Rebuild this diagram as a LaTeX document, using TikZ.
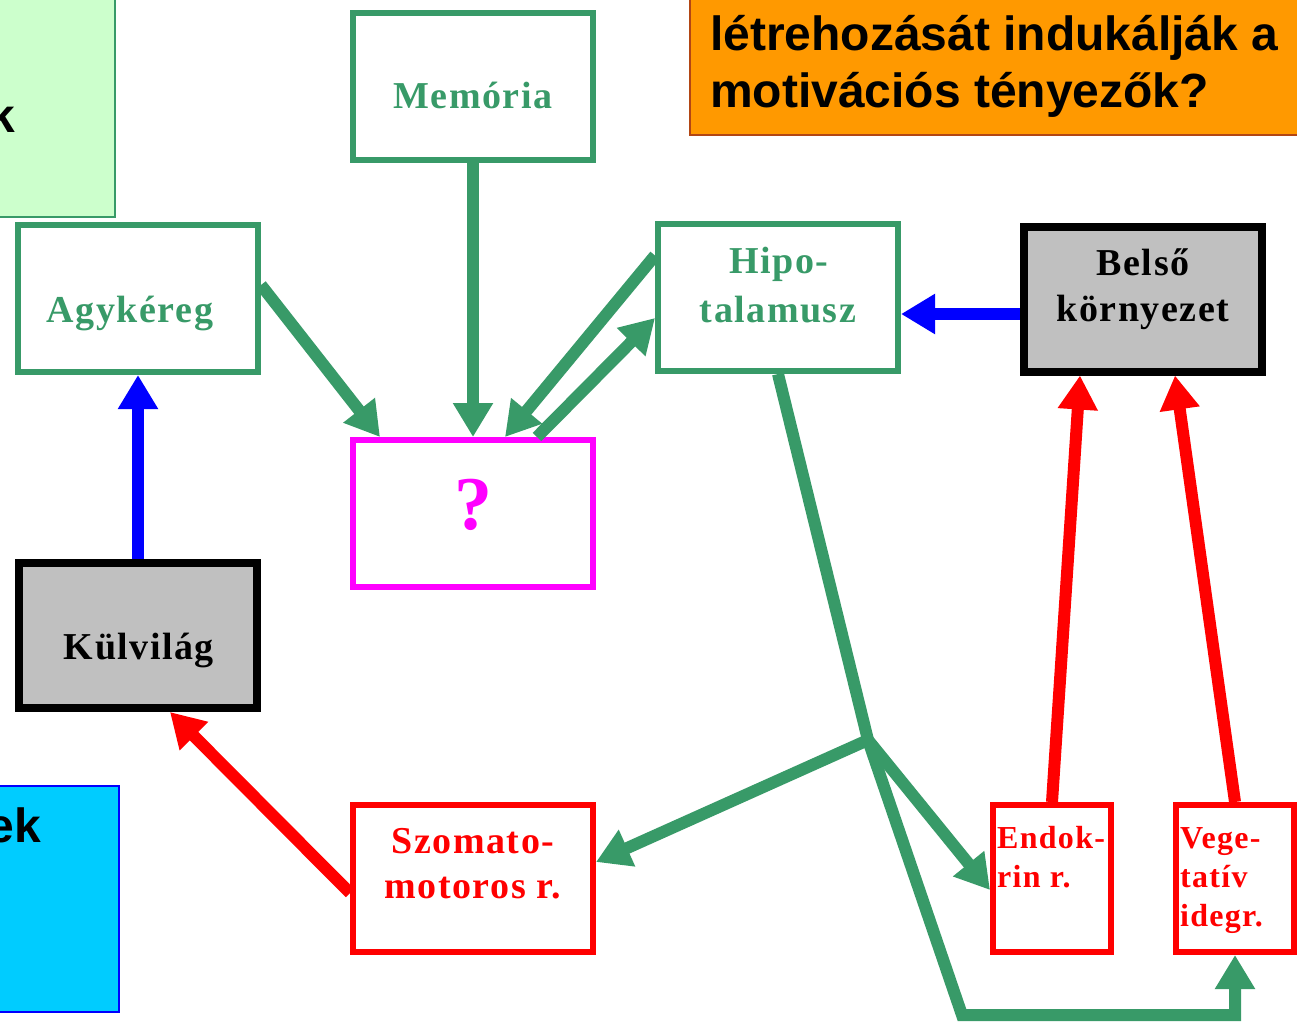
\documentclass[tikz,border=0pt]{standalone}
\usepackage{fontspec}
\setmainfont{Liberation Serif}
\newfontfamily\headfont{Liberation Sans}
\newfontfamily\boxfont[LetterSpace=4]{Liberation Serif}
\usetikzlibrary{arrows.meta}
\definecolor{sgreen}{RGB}{56,154,104}
\definecolor{boxgray}{RGB}{192,192,192}
\definecolor{palegreen}{RGB}{204,255,204}
\definecolor{skycyan}{RGB}{0,204,255}
\definecolor{panelorange}{RGB}{255,153,0}
\definecolor{panelrim}{RGB}{178,70,20}
\definecolor{pinkq}{RGB}{255,0,255}
\begin{document}
\begin{tikzpicture}[x=1pt,y=-1pt,
  box/.style={rectangle, inner sep=0pt, line width=6pt,
    minimum width=240pt, minimum height=147pt},
  gbox/.style={box, draw=sgreen},
  rbox/.style={box, draw=red},
  mbox/.style={box, draw=pinkq},
  graybox/.style={box, draw=black, fill=boxgray, line width=8pt,
    minimum width=238pt, minimum height=145pt},
  narrow/.style={minimum width=118pt},
  panel/.style={rectangle, inner sep=0pt, line width=2pt},
  lbl/.style={anchor=base, inner sep=0pt,
    font=\boxfont\bfseries\fontsize{38}{46}\selectfont},
  small/.style={anchor=base west, inner sep=0pt, align=left,
    font=\boxfont\bfseries\fontsize{32}{39}\selectfont, text=red},
  head/.style={inner sep=0pt, font=\headfont\bfseries\fontsize{48}{57}\selectfont},
  arr/.style={line width=12pt, -{Triangle[length=34pt,width=38pt]}},
  garr/.style={arr, draw=sgreen},
  rarr/.style={arr, draw=red},
  barr/.style={arr, draw=blue},
]
\fill[white] (0,0) rectangle (1297,1023);
\clip (0,0) rectangle (1297,1023);

% side panels of the slide
\node[panel, draw=sgreen, fill=palegreen, minimum width=315pt, minimum height=417pt]
  (leftpanel) at (-42.5,8.5) {};
\node[panel, draw=blue, fill=skycyan, minimum width=319pt, minimum height=226pt]
  (bottompanel) at (-40.5,899) {};
\node[panel, draw=panelrim, fill=panelorange, minimum width=810pt, minimum height=335pt]
  (question) at (1095,-32.5) {};
\node[head, anchor=base east] (lk) at (15,132) {k};
\node[head, anchor=base east] (bk) at (41,842) {ek};
\node[head, anchor=base west] (q1) at (710,50) {létrehozását indukálják a};
\node[head, anchor=base west] (q2) at (710,107) {motivációs tényezők?};

% boxes
\node[gbox] (mem) at (473,86.5) {};
\node[gbox] (agy) at (138,298.5) {};
\node[gbox] (hip) at (778,297.5) {};
\node[graybox] (bel) at (1143,299) {};
\node[mbox] (q) at (473,513.5) {};
\node[graybox] (kul) at (138,635.5) {};
\node[rbox] (szo) at (473,878.5) {};
\node[rbox, narrow] (end) at (1052,878.5) {};
\node[rbox, narrow] (veg) at (1235,878.5) {};

% labels
\node[lbl, text=sgreen] at (473,108) {Memória};
\node[lbl, text=sgreen] at (130,322) {Agykéreg};
\node[lbl, text=sgreen] at (779,273) {Hipo-};
\node[lbl, text=sgreen] at (778,322) {talamusz};
\node[lbl] at (1143,275) {Belső};
\node[lbl] at (1143,321) {környezet};
\node[lbl] at (139,659) {Külvilág};
\node[lbl, text=pinkq, font=\boxfont\bfseries\fontsize{76}{80}\selectfont] at (473,529) {?};
\node[lbl, text=red] at (473,853) {Szomato-};
\node[lbl, text=red] at (473,898) {motoros r.};
\node[small] at (997,848) {Endok-};
\node[small] at (997,887) {rin r.};
\node[small] at (1180,848) {Vege-};
\node[small] at (1180,887) {tatív};
\node[small] at (1180,926) {idegr.};

% connectors
\coordinate (J) at (868,740);
\coordinate (C) at (962,1015);
\draw[garr] (mem.south) -- (q.north);
\draw[garr] ([yshift=13.5pt]agy.east) -- ([xshift=30pt]q.north west);
\draw[garr] ([yshift=42pt]hip.west) -- ([xshift=32pt]q.north);
\draw[garr] ([xshift=64pt]q.north) -- ([yshift=-20.5pt]hip.west);
\draw[barr] ([yshift=-15pt]bel.west) -- ([yshift=-16.5pt]hip.east);
\draw[barr] (kul.north) -- (agy.south);
\draw[rarr] ([yshift=-14.5pt]szo.west) -- ([xshift=32pt]kul.south);
\draw[rarr] (end.north) -- ([xshift=-63pt]bel.south);
\draw[rarr] (veg.north) -- ([xshift=32pt]bel.south);
\draw[garr, line join=miter] (hip.south) -- (J) -- (C) -| (veg.south);
\draw[garr] (J) -- ([yshift=16.5pt]szo.east);
\draw[garr] (J) -- ([yshift=-11.5pt]end.west);
\end{tikzpicture}
\end{document}
